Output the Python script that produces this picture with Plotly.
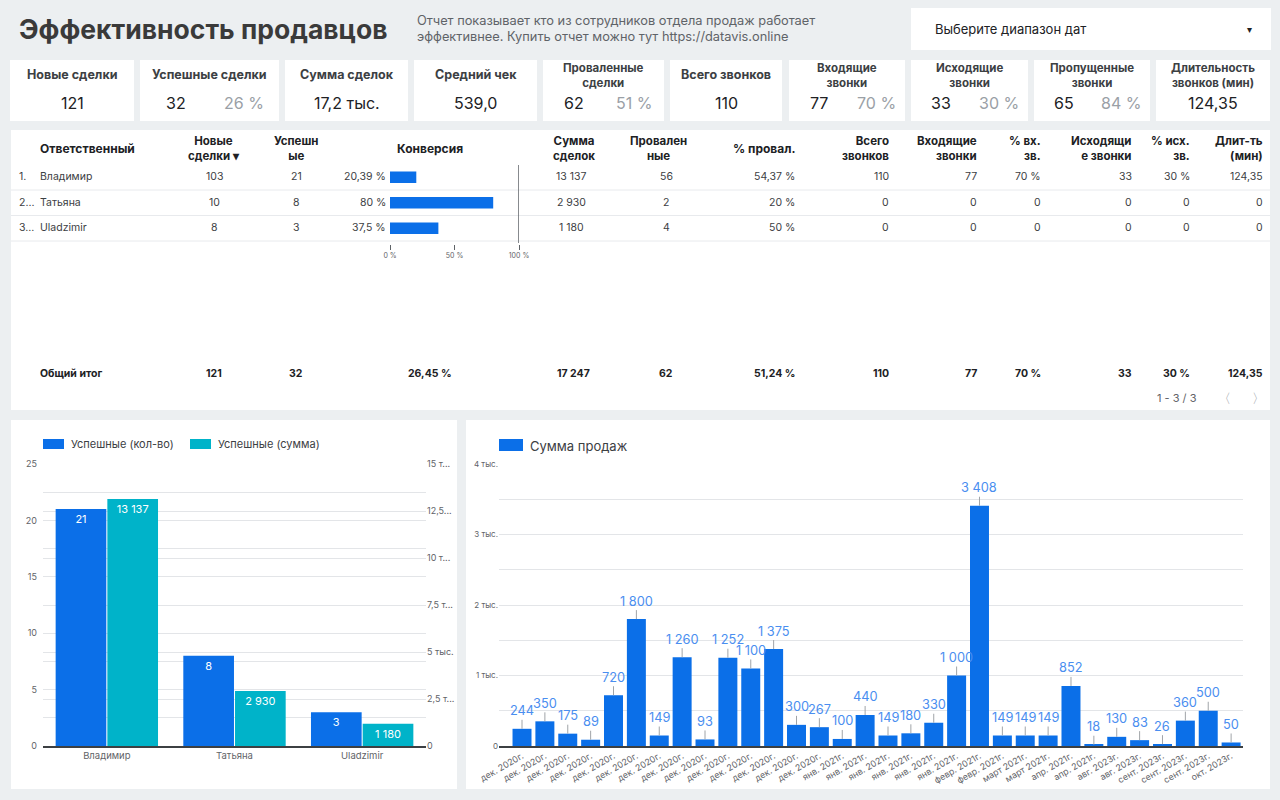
import plotly.graph_objects as go

# ---------------- DATA ----------------
kpi_titles = ["Новые сделки", "Успешные сделки", "Сумма сделок", "Средний чек",
              "Проваленные\nсделки", "Всего звонков", "Входящие\nзвонки",
              "Исходящие\nзвонки", "Пропущенные\nзвонки", "Длительность\nзвонков (мин)"]
kpi_values = ["121", "32", "17,2 тыс.", "539,0", "62", "110", "77", "33", "65", "124,35"]
kpi_pcts = ["", "26 %", "", "", "51 %", "", "70 %", "30 %", "84 %", ""]

names = ["Владимир", "Татьяна", "Uladzimir"]
row_index = ["1.", "2...", "3..."]
new_deals = [103, 10, 8]
success = [21, 8, 3]
conversion = [20.39, 80, 37.5]
deal_sum = [13137, 2930, 1180]
failed = [56, 2, 4]
fail_pct = [54.37, 20, 50]
calls_total = [110, 0, 0]
calls_in = [77, 0, 0]
calls_in_pct = [70, 0, 0]
calls_out = [33, 0, 0]
calls_out_pct = [30, 0, 0]
duration = [124.35, 0, 0]

left_y_ticks = [0, 5, 10, 15, 20, 25]
right_y_ticks = [0, 2500, 5000, 7500, 10000, 12500, 15000]
right_y_text = ["0", "2,5 т...", "5 тыс.", "7,5 т...", "10 т...", "12,5...", "15 т..."]

sales_months = ["дек. 2020г."] * 14 + ["янв. 2021г."] * 6 + ["февр. 2021г."] * 2 + \
               ["март 2021г."] * 2 + ["апр. 2021г."] * 2 + ["авг. 2023г."] * 2 + \
               ["сент. 2023г."] * 3 + ["окт. 2023г."]
sales_values = [244, 350, 175, 89, 720, 1800, 149, 1260, 93, 1252, 1100, 1375, 300, 267,
                100, 440, 149, 180, 330, 1000, 3408, 149, 149, 149, 852, 18,
                130, 83, 26, 360, 500, 50]
sales_y_ticks = [0, 1000, 2000, 3000, 4000]
sales_y_text = ["0", "1 тыс.", "2 тыс.", "3 тыс.", "4 тыс."]

# ---------------- STYLE ----------------
W, H = 1280, 800
FONT = "Inter, 'Noto Sans', sans-serif"
BG = "#eceff1"
BLUE = "#0b6fe8"
TEAL = "#00b3c9"
DARK = "#202124"
TXT = "#3c4043"
GREY = "#5f6368"
LGREY = "#9aa0a6"
GRID = "#e3e5e8"
LABEL_BLUE = "#4a8ef0"


def px(x):
    return x / W


def py(y):
    return 1 - y / H


def fmt_num(v):
    if float(v).is_integer():
        return f"{int(v):,}".replace(",", " ")
    return f"{v:.2f}".rstrip("0").rstrip(".").replace(".", ",")


def fmt_pct(v):
    return "0" if v == 0 else fmt_num(v) + " %"


shapes = []
anns = []


def card(x0, y0, x1, y1):
    shapes.append(dict(type="rect", xref="paper", yref="paper", x0=px(x0), x1=px(x1),
                       y0=py(y1), y1=py(y0), fillcolor="white", line=dict(width=0),
                       layer="below"))


def text(x, y, s, size=11, color=TXT, anchor="left", bold=False, align=None):
    anns.append(dict(x=px(x), y=py(y), xref="paper", yref="paper",
                     text=f"<b>{s}</b>" if bold else s, showarrow=False,
                     xanchor=anchor, yanchor="middle", align=align or anchor,
                     font=dict(size=size, color=color, family=FONT)))


def hline(x0, x1, y, color="#e8eaed", width=1):
    shapes.append(dict(type="line", xref="paper", yref="paper", x0=px(x0), x1=px(x1),
                       y0=py(y), y1=py(y), line=dict(color=color, width=width)))


# ---------------- HEADER ----------------
text(17, 29, "Эффективность продавцов", 26.5, "#3a3a3a", bold=True)
text(415, 20, "Отчет показывает кто из сотрудников отдела продаж работает", 12.8, GREY)
text(415, 36, "эффективнее. Купить отчет можно тут https://datavis.online", 12.8, GREY)
card(911, 8, 1271, 50)
text(933, 29, "Выберите диапазон дат", 13, DARK)
text(1249, 29, "▾", 10, DARK, anchor="center")

# ---------------- KPI CARDS ----------------
kpi_x = [(10, 134), (140, 279), (285, 408), (414, 537), (543, 664),
         (670, 782), (789, 905), (911, 1028), (1034, 1150), (1156, 1270)]
for (x0, x1), t, v, p in zip(kpi_x, kpi_titles, kpi_values, kpi_pcts):
    card(x0, 60, x1, 121)
    cx = (x0 + x1) / 2
    lines = t.split("\n")
    if len(lines) == 1:
        text(cx, 74, lines[0], 12.5, TXT, "center", bold=True)
    else:
        text(cx, 75.5, "<br>".join(f"<b>{l}</b>" for l in lines), 11.5, TXT, "center")
    w = x1 - x0
    if p:
        text(x0 + 0.26 * w, 103, v, 16, DARK, "center")
        text(x0 + 0.75 * w, 103, p, 16, LGREY, "center")
    else:
        text(cx, 103, v, 16, DARK, "center")

# ---------------- TABLE ----------------
card(11, 130, 1270, 410)
headers = [("Ответственный", 38, "left"), ("Новые\nсделки ▾", 214, "center"),
           ("Успешн\nые", 296, "center"), ("Конверсия", 430, "center"),
           ("Сумма\nсделок", 574, "center"), ("Провален\nные", 658, "center"),
           ("% провал.", 797, "right"), ("Всего\nзвонков", 891, "right"),
           ("Входящие\nзвонки", 979, "right"), ("% вх.\nзв.", 1043, "right"),
           ("Исходящи\nе звонки", 1134, "right"), ("% исх.\nзв.", 1192, "right"),
           ("Длит-ть\n(мин)", 1265, "right")]
for h, x, a in headers:
    lines = h.split("\n")
    if len(lines) == 1:
        text(x, 148, lines[0], 12, DARK, a, bold=True)
    else:
        text(x, 148.5, "<br>".join(f"<b>{l}</b>" for l in lines), 11.5, DARK, a)

row_y = [177, 202.5, 228]
for i in range(len(names)):
    y = row_y[i]
    text(17, y, row_index[i], 10.5, TXT)
    text(38, y, names[i], 10.5, TXT)
    text(214, y, fmt_num(new_deals[i]), 10.5, TXT, "center")
    text(296, y, fmt_num(success[i]), 10.5, TXT, "center")
    text(388, y, fmt_pct(conversion[i]), 10.5, TXT, "right")
    text(571, y, fmt_num(deal_sum[i]), 10.5, TXT, "center")
    text(666, y, fmt_num(failed[i]), 10.5, TXT, "center")
    text(797, y, fmt_pct(fail_pct[i]), 10.5, TXT, "right")
    text(891, y, fmt_num(calls_total[i]), 10.5, TXT, "right")
    text(979, y, fmt_num(calls_in[i]), 10.5, TXT, "right")
    text(1043, y, fmt_pct(calls_in_pct[i]), 10.5, TXT, "right")
    text(1134, y, fmt_num(calls_out[i]), 10.5, TXT, "right")
    text(1192, y, fmt_pct(calls_out_pct[i]), 10.5, TXT, "right")
    text(1265, y, fmt_num(duration[i]), 10.5, TXT, "right")
for y in [190, 215.5, 241]:
    hline(11, 1270, y)

# totals
tot_new = sum(new_deals)
tot_succ = sum(success)
tot_fail = sum(failed)
tot_calls = sum(calls_total)
tot_in = sum(calls_in)
tot_out = sum(calls_out)
ty = 373
text(38, ty, "Общий итог", 10.5, DARK, bold=True)
text(214, ty, fmt_num(tot_new), 10.5, DARK, "center", True)
text(296, ty, fmt_num(tot_succ), 10.5, DARK, "center", True)
text(430, ty, fmt_pct(round(tot_succ / tot_new * 100, 2)), 10.5, DARK, "center", True)
text(573, ty, fmt_num(sum(deal_sum)), 10.5, DARK, "center", True)
text(666, ty, fmt_num(tot_fail), 10.5, DARK, "center", True)
text(797, ty, fmt_pct(round(tot_fail / tot_new * 100, 2)), 10.5, DARK, "right", True)
text(891, ty, fmt_num(tot_calls), 10.5, DARK, "right", True)
text(979, ty, fmt_num(tot_in), 10.5, DARK, "right", True)
text(1043, ty, fmt_pct(round(tot_in / tot_calls * 100, 2)), 10.5, DARK, "right", True)
text(1134, ty, fmt_num(tot_out), 10.5, DARK, "right", True)
text(1192, ty, fmt_pct(round(tot_out / tot_calls * 100, 2)), 10.5, DARK, "right", True)
text(1265, ty, fmt_num(sum(duration)), 10.5, DARK, "right", True)

text(1199, 398, "1 - 3 / 3", 11, GREY, "right")
text(1224, 398, "〈", 13, LGREY, "center")
text(1258, 398, "〉", 13, LGREY, "center")

# 100% reference line of conversion column
shapes.append(dict(type="line", xref="x3", yref="paper", x0=100, x1=100,
                   y0=py(243), y1=py(165), line=dict(color="#5f6368", width=1.5)))

# ---------------- BOTTOM CARDS ----------------
card(11, 420, 457, 789)
card(466, 420, 1270, 789)

# left legend
shapes.append(dict(type="rect", xref="paper", yref="paper", x0=px(43), x1=px(64),
                   y0=py(449), y1=py(439), fillcolor=BLUE, line=dict(width=0)))
text(69, 444, "Успешные (кол-во)", 11, TXT)
shapes.append(dict(type="rect", xref="paper", yref="paper", x0=px(190), x1=px(211),
                   y0=py(449), y1=py(439), fillcolor=TEAL, line=dict(width=0)))
text(216, 444, "Успешные (сумма)", 11, TXT)

# right legend
shapes.append(dict(type="rect", xref="paper", yref="paper", x0=px(499), x1=px(523),
                   y0=py(451), y1=py(439), fillcolor=BLUE, line=dict(width=0)))
text(528, 445.5, "Сумма продаж", 13, TXT)

# ---------------- TRACES ----------------
fig = go.Figure()
fig.add_trace(go.Bar(x=names, y=success, xaxis="x", yaxis="y", marker_color=BLUE,
                     offsetgroup="a", text=[fmt_num(v) for v in success],
                     textposition="inside", insidetextanchor="end", textangle=0,
                     textfont=dict(color="white", size=11, family=FONT),
                     marker_line_width=0, showlegend=False))
fig.add_trace(go.Bar(x=names, y=deal_sum, xaxis="x", yaxis="y2", marker_color=TEAL,
                     offsetgroup="b", text=[fmt_num(v) for v in deal_sum],
                     textposition="inside", insidetextanchor="end", textangle=0,
                     textfont=dict(color="white", size=11, family=FONT),
                     marker_line_width=0, showlegend=False))
fig.add_trace(go.Bar(x=conversion, y=list(range(len(names))), orientation="h",
                     xaxis="x3", yaxis="y3", width=0.45, marker_color=BLUE,
                     marker_line_width=0, showlegend=False))
fig.add_trace(go.Bar(x=list(range(len(sales_values))), y=sales_values, xaxis="x4",
                     yaxis="y4", width=0.83, marker_color=BLUE, marker_line_width=0,
                     showlegend=False))

for i, v in enumerate(sales_values):
    anns.append(dict(x=i, y=v, xref="x4", yref="y4", text=fmt_num(v), showarrow=True,
                     arrowhead=0, arrowwidth=1, arrowcolor="#a0a4a8", ax=0, ay=-18,
                     standoff=0, font=dict(size=12.8, color=LABEL_BLUE, family=FONT)))

tickfont = dict(size=9, color=GREY, family=FONT)
fig.update_layout(
    width=W, height=H, autosize=False,
    margin=dict(l=0, r=0, t=0, b=0, pad=0, autoexpand=False),
    paper_bgcolor=BG, plot_bgcolor="rgba(0,0,0,0)",
    font=dict(family=FONT, color=TXT),
    barmode="group", bargap=0.19, bargroupgap=0.02,
    hovermode=False,
    shapes=shapes, annotations=anns,
    xaxis=dict(domain=[px(43), px(426)], anchor="y", showline=True, automargin=False,
               linecolor="#3c4043", linewidth=1.5, ticks="", showgrid=False,
               tickfont=dict(size=9.5, color=GREY, family=FONT)),
    yaxis=dict(domain=[py(746), py(464)], anchor="x", range=[0, 25], automargin=False,
               tickvals=left_y_ticks, showgrid=True, gridcolor=GRID, zeroline=False,
               minor=dict(dtick=2.5, showgrid=True, gridcolor=GRID),
               ticks="", tickfont=tickfont, ticklabelstandoff=5),
    yaxis2=dict(overlaying="y", side="right", anchor="x", range=[0, 15000],
                automargin=False,
                tickvals=right_y_ticks, ticktext=right_y_text, showgrid=True,
                gridcolor=GRID, zeroline=False, ticks="", tickfont=tickfont),
    xaxis3=dict(domain=[px(390), px(519)], anchor="y3", range=[0, 100],
                automargin=False,
                tickvals=[0, 50, 100], ticktext=["0 %", "50 %", "100 %"],
                ticks="outside", ticklen=5, tickcolor=GREY, showgrid=False,
                showline=False, zeroline=False,
                tickfont=dict(size=7, color=GREY, family=FONT)),
    yaxis3=dict(domain=[py(244), py(164.5)], anchor="x3", range=[2.618, -0.5],
                visible=False, automargin=False),
    xaxis4=dict(domain=[px(499), px(1243)], anchor="y4", range=[-1.006, 31.52],
                automargin=False,
                tickvals=list(range(len(sales_months))), ticktext=sales_months,
                tickangle=-30, showline=True, linecolor="#3c4043", linewidth=1.5,
                ticks="", showgrid=False, zeroline=False,
                tickfont=dict(size=8.8, color=GREY, family=FONT)),
    yaxis4=dict(domain=[py(746), py(464)], anchor="x4", range=[0, 4000],
                automargin=False,
                tickvals=sales_y_ticks, ticktext=sales_y_text, showgrid=True,
                gridcolor=GRID, zeroline=False,
                minor=dict(dtick=500, showgrid=True, gridcolor=GRID),
                ticks="", tickfont=dict(size=8, color=GREY, family=FONT)),
)

fig.write_html("out.html")
